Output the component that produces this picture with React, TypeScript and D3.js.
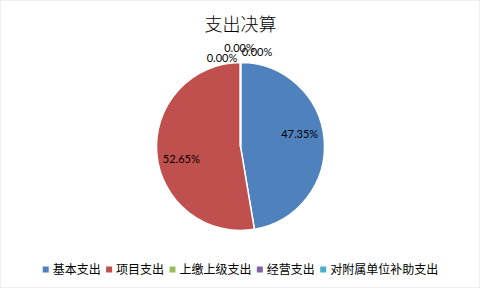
import React from "react";
import * as d3 from "d3";

const categories = ["基本支出", "项目支出", "上缴上级支出", "经营支出", "对附属单位补助支出"];
const values = [47.35, 52.65, 0, 0, 0];
const colors = ["#4F81BD", "#C0504D", "#9BBB59", "#8064A2", "#4BACC6"];
const title = "支出决算";

// offsets for stacked zero labels at the top (best-fit placement)
const zeroLabelDx = [0, 0, -18.5, -1, 16.5];
const zeroLabelDy = [0, 0, 5.5, -4, -0.5];

const W = 481;
const H = 289;

export default function App() {
  const cx = 240.5;
  const cy = 146.5;
  const r = 84;
  const total = d3.sum(values);
  const pie = d3.pie<number>().sort(null).value((d) => d);
  const arcs = pie(values);
  const arc = d3.arc<d3.PieArcDatum<number>>().innerRadius(0).outerRadius(r);
  const outerArc = d3.arc<d3.PieArcDatum<number>>().innerRadius(r + 10).outerRadius(r + 10);
  const labelR = r * 0.72;
  const labelRot = -0.122;
  const fmt = (v: number) => ((v / total) * 100).toFixed(2) + "%";

  // legend layout
  const legendFont = 12;
  const charW = 11.95;
  const sq = 6;
  const gapSqText = 4;
  const gapItems = 5.6;
  const widths = categories.map((c) => sq + gapSqText + c.length * charW);
  let lx = 42.7;
  const legendItems = categories.map((c, i) => {
    const x = lx;
    lx += widths[i] + gapItems;
    return { c, i, x };
  });
  const ly = 269.5;

  return (
    <svg
      width={W}
      height={H}
      style={{ position: "fixed", left: 0, top: 0, background: "#fff" }}
    >
      <rect x={0.5} y={0.5} width={W - 2} height={H - 2} fill="#fff" stroke="#EFEFEF" />
      <text
        x={cx}
        y={31}
        textAnchor="middle"
        fontFamily="'Noto Sans CJK SC'"
        fontWeight={300}
        fontSize={18}
        fill="#000"
      >
        {title}
      </text>
      <g transform={`translate(${cx},${cy})`}>
        {arcs.map((a, i) => (
          <path key={i} d={arc(a) || ""} fill={colors[i]} stroke="#fff" strokeWidth={1.5} />
        ))}
        {arcs.map((a, i) => {
          const isZero = a.value === 0;
          let x: number, y: number;
          if (isZero) {
            [x, y] = outerArc.centroid(a);
            x += zeroLabelDx[i];
            y += zeroLabelDy[i];
          } else {
            const ang = (a.startAngle + a.endAngle) / 2 + labelRot;
            x = labelR * Math.sin(ang);
            y = -labelR * Math.cos(ang);
          }
          return (
            <text
              key={"l" + i}
              x={x}
              y={y}
              dy="0.35em"
              textAnchor="middle"
              fontFamily="Lato, 'Liberation Sans'"
              fontSize={11}
              fill="#000"
            >
              {fmt(a.value)}
            </text>
          );
        })}
      </g>
      {legendItems.map(({ c, i, x }) => (
        <g key={c}>
          <rect x={x} y={ly - 3} width={sq} height={sq} fill={colors[i]} />
          <text
            x={x + sq + gapSqText}
            y={ly}
            dy="0.35em"
            fontFamily="'Noto Sans CJK SC'"
            fontSize={legendFont}
            fill="#000"
          >
            {c}
          </text>
        </g>
      ))}
    </svg>
  );
}
